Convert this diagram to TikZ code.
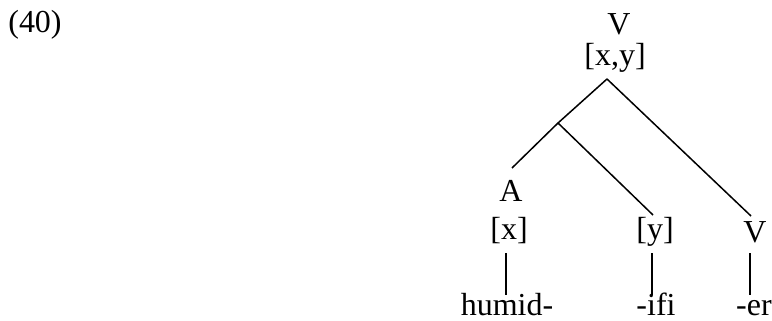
\documentclass[tikz,border=0pt]{standalone}
\usepackage{fontspec}
\setmainfont{Liberation Serif}
\begin{document}
\begin{tikzpicture}[x=1pt,y=-1pt,
  lbl/.style={inner sep=0pt,anchor=base,font=\fontsize{32}{38}\selectfont},
  edge/.style={line width=1.5pt}]
\useasboundingbox (0,0) rectangle (772,321);
\node[lbl] (num) at (35,33) {(40)};
\node[lbl] (Vtop) at (619,35) {V};
\node[lbl] (xy) at (615,66) {[x,y]};
\node[lbl] (A) at (511,201) {A};
\node[lbl] (x) at (509,239) {[x]};
\node[lbl] (y) at (655,239) {[y]};
\node[lbl] (Vb) at (755,242) {V};
\node[lbl] (humid) at (507,315) {humid-};
\node[lbl] (ifi) at (656,315) {-ifi};
\node[lbl] (er) at (754,315) {-er};
\coordinate (apex) at (607,79);
\coordinate (jn) at (558,123);
\coordinate (Atop) at (512,168);
\coordinate (ytop) at (653,215);
\coordinate (Vbtop) at (751,216);
\coordinate (xb) at (506,253);
\coordinate (hu) at (506,295);
\coordinate (yb) at (652,253);
\coordinate (if) at (652,295);
\coordinate (Vbb) at (750,253);
\coordinate (ert) at (750,295);
\draw[edge] (apex) -- (jn) -- (Atop);
\draw[edge] (jn) -- (ytop);
\draw[edge] (apex) -- (Vbtop);
\draw[edge] (xb) -- (hu);
\draw[edge] (yb) -- (if);
\draw[edge] (Vbb) -- (ert);
\end{tikzpicture}
\end{document}
